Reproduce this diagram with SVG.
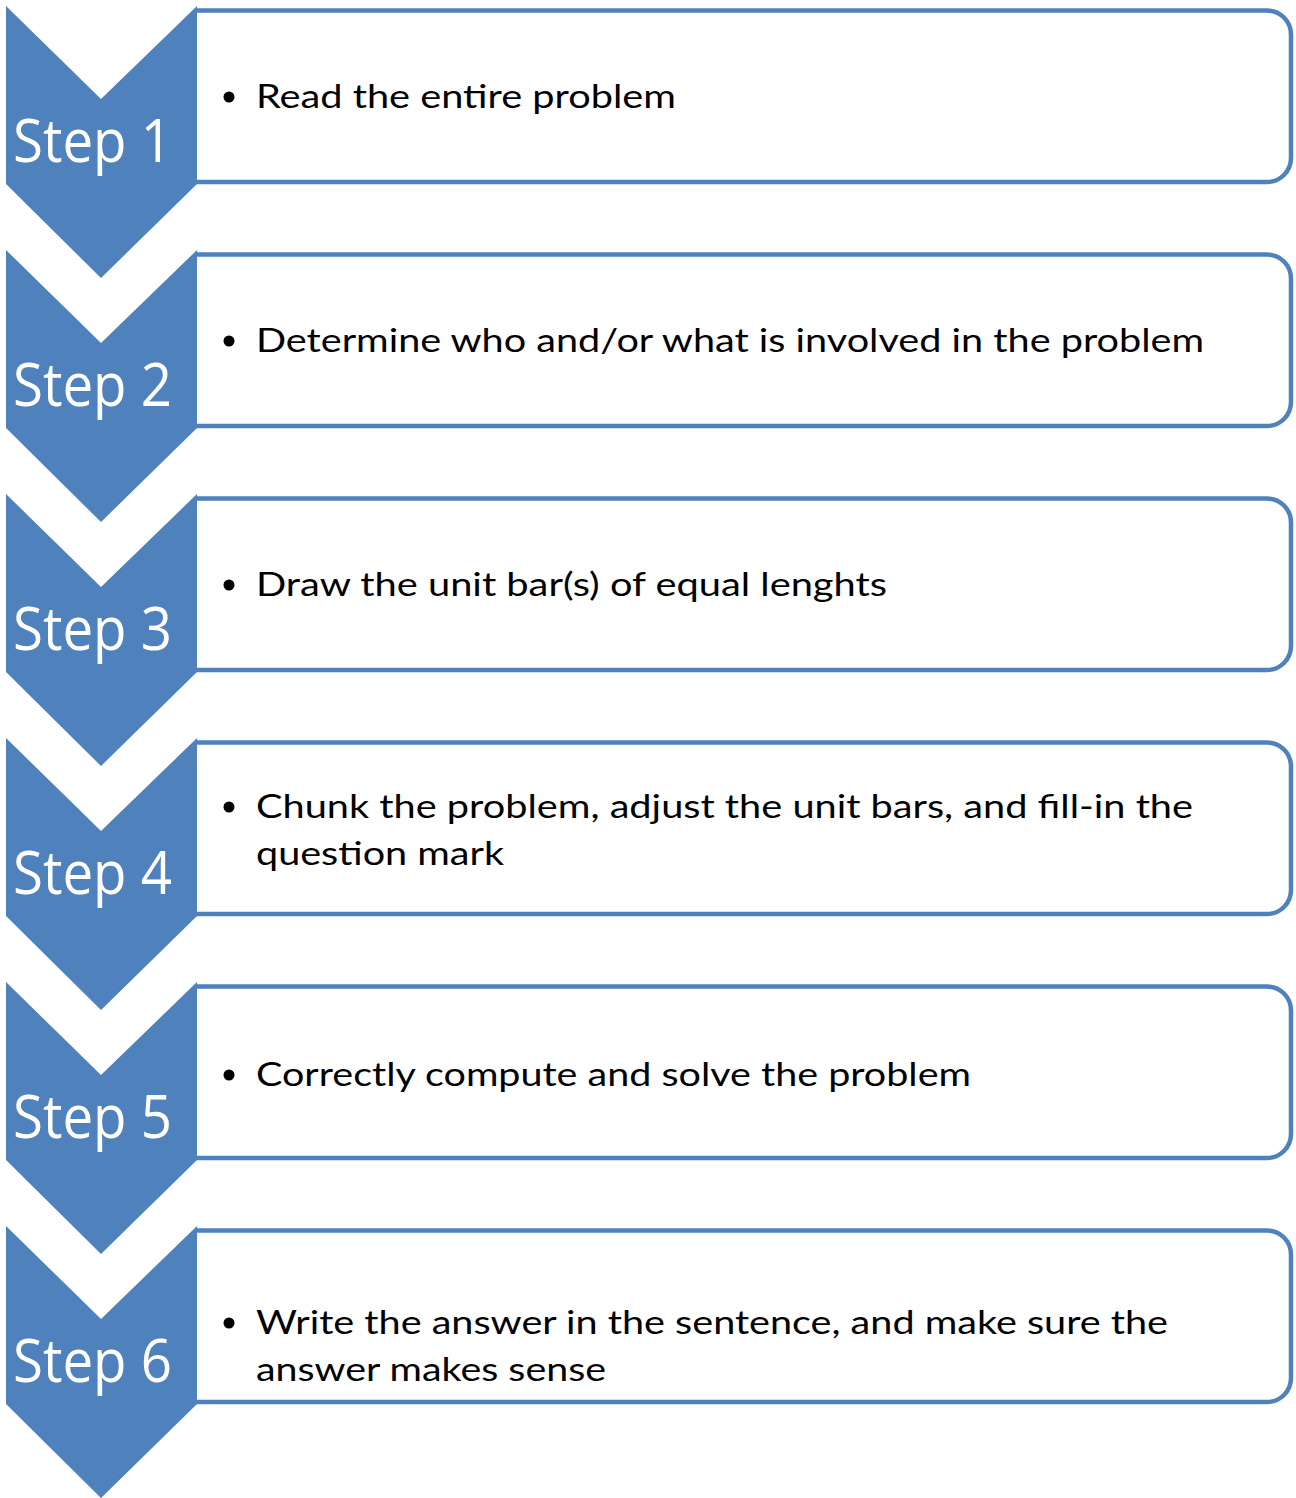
<svg xmlns="http://www.w3.org/2000/svg" width="1296" height="1498" viewBox="0 0 1296 1498">
<style>
.box{fill:#fff;stroke:#4F81BD;stroke-width:4.5}
.chev{fill:#4F81BD}
.lbl{font-family:"Open Sans",Lato,sans-serif;font-size:60px;fill:#fff}
.txt{font-family:Lato,"Open Sans",sans-serif;font-size:33px;fill:#000}
.dot{fill:#000}
</style>
<rect width="1296" height="1498" fill="#fff"/>
<g id="step1">
<path class="box" d="M196,10.5 H1267 A24,24 0 0 1 1291,34.5 V158 A24,24 0 0 1 1267,182 H196"/>
<polygon class="chev" points="6,6 101,99 197,6 197,184 101,278 6,184"/>
<text class="lbl" x="13" y="162" textLength="159" lengthAdjust="spacingAndGlyphs">Step 1</text>
<circle class="dot" cx="229" cy="97" r="5.5"/>
<text class="txt" x="256" y="108" textLength="420" lengthAdjust="spacingAndGlyphs">Read the entire problem</text>
</g>
<g id="step2">
<path class="box" d="M196,254.5 H1267 A24,24 0 0 1 1291,278.5 V402 A24,24 0 0 1 1267,426 H196"/>
<polygon class="chev" points="6,250 101,343 197,250 197,428 101,522 6,428"/>
<text class="lbl" x="13" y="406" textLength="159" lengthAdjust="spacingAndGlyphs">Step 2</text>
<circle class="dot" cx="229" cy="341" r="5.5"/>
<text class="txt" x="256" y="352" textLength="948" lengthAdjust="spacingAndGlyphs">Determine who and/or what is involved in the problem</text>
</g>
<g id="step3">
<path class="box" d="M196,498.5 H1267 A24,24 0 0 1 1291,522.5 V646 A24,24 0 0 1 1267,670 H196"/>
<polygon class="chev" points="6,494 101,587 197,494 197,672 101,766 6,672"/>
<text class="lbl" x="13" y="650" textLength="159" lengthAdjust="spacingAndGlyphs">Step 3</text>
<circle class="dot" cx="229" cy="585" r="5.5"/>
<text class="txt" x="256" y="596" textLength="631" lengthAdjust="spacingAndGlyphs">Draw the unit bar(s) of equal lenghts</text>
</g>
<g id="step4">
<path class="box" d="M196,742.5 H1267 A24,24 0 0 1 1291,766.5 V890 A24,24 0 0 1 1267,914 H196"/>
<polygon class="chev" points="6,738 101,831 197,738 197,916 101,1010 6,916"/>
<text class="lbl" x="13" y="894" textLength="159" lengthAdjust="spacingAndGlyphs">Step 4</text>
<circle class="dot" cx="229" cy="807" r="5.5"/>
<text class="txt" x="256" y="818" textLength="937" lengthAdjust="spacingAndGlyphs">Chunk the problem, adjust the unit bars, and fill-in the</text>
<text class="txt" x="256" y="865" textLength="248" lengthAdjust="spacingAndGlyphs">question mark</text>
</g>
<g id="step5">
<path class="box" d="M196,986.5 H1267 A24,24 0 0 1 1291,1010.5 V1134 A24,24 0 0 1 1267,1158 H196"/>
<polygon class="chev" points="6,982 101,1075 197,982 197,1160 101,1254 6,1160"/>
<text class="lbl" x="13" y="1138" textLength="159" lengthAdjust="spacingAndGlyphs">Step 5</text>
<circle class="dot" cx="229" cy="1075" r="5.5"/>
<text class="txt" x="256" y="1086" textLength="715" lengthAdjust="spacingAndGlyphs">Correctly compute and solve the problem</text>
</g>
<g id="step6">
<path class="box" d="M196,1230.5 H1267 A24,24 0 0 1 1291,1254.5 V1378 A24,24 0 0 1 1267,1402 H196"/>
<polygon class="chev" points="6,1226 101,1319 197,1226 197,1404 101,1498 6,1404"/>
<text class="lbl" x="13" y="1382" textLength="159" lengthAdjust="spacingAndGlyphs">Step 6</text>
<circle class="dot" cx="229" cy="1323" r="5.5"/>
<text class="txt" x="256" y="1334" textLength="912" lengthAdjust="spacingAndGlyphs">Write the answer in the sentence, and make sure the</text>
<text class="txt" x="256" y="1381" textLength="350" lengthAdjust="spacingAndGlyphs">answer makes sense</text>
</g>
<g id="connectors"></g>
</svg>
